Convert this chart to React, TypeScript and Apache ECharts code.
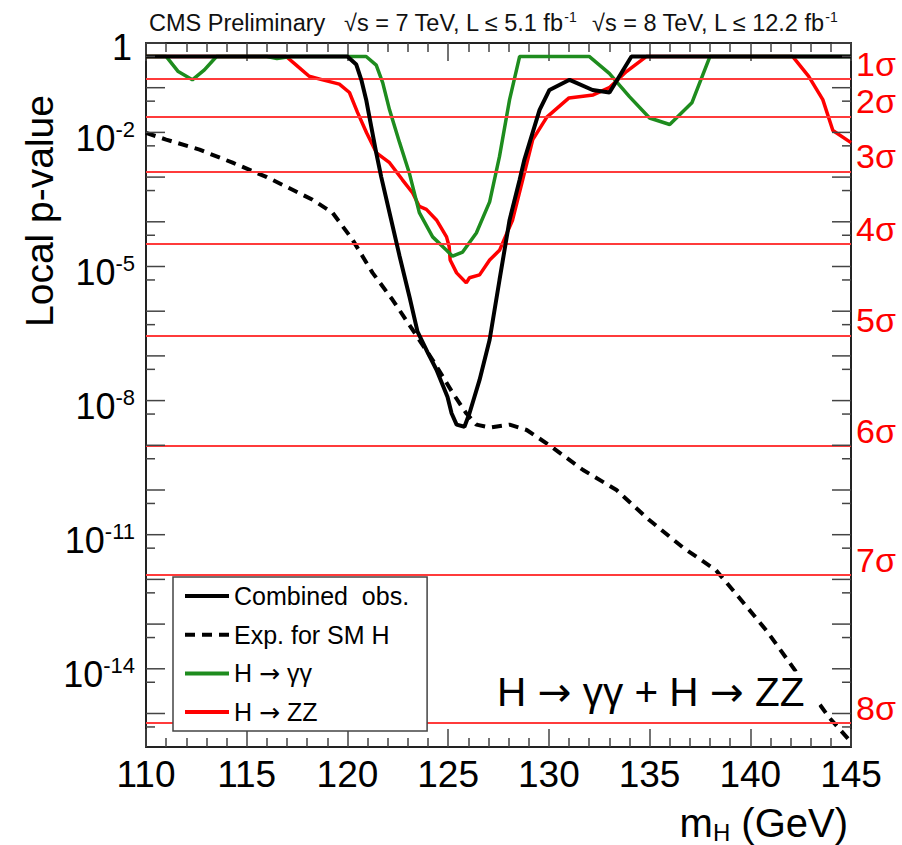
import React, { useEffect, useRef } from 'react';
import * as echarts from 'echarts';

const FONT = '"Liberation Sans", Arial, Helvetica, sans-serif';
const ARROW_FONT = '"DejaVu Sans", "Liberation Sans", sans-serif';

// ---- data (mH in GeV, local p-value) ----
const massCombined = [110, 120.0, 120.44, 120.69, 120.93, 121.18, 121.43, 121.68, 122.09, 122.59, 123.08, 123.48, 123.98, 124.42, 124.97, 125.17, 125.42, 125.81, 126.06, 126.56, 127.06, 127.55, 128.05, 128.55, 128.79, 129.54, 130.03, 131.03, 132.17, 133.01, 134.1, 145];
const pCombined = [0.5, 0.5, 0.33, 0.15, 0.054, 0.0136, 0.0035, 0.001, 1.6e-4, 1.7e-5, 2.1e-6, 3.5e-7, 1.2e-7, 4.9e-8, 1.2e-8, 5.2e-9, 2.9e-9, 2.6e-9, 5.2e-9, 2.9e-8, 2.3e-7, 5.0e-6, 1.1e-4, 8.7e-4, 2.5e-3, 0.032, 0.089, 0.15, 0.089, 0.078, 0.5, 0.5];

const massExpected = [110, 111, 112.66, 114.3, 116, 117.6, 118.27, 119.26, 120.25, 121.25, 122.24, 123.24, 124.23, 125.22, 125.9, 126.4, 127.1, 128.05, 128.9, 130.03, 131.7, 133.36, 135.0, 136.65, 138.3, 139.13, 140.8, 142.1, 143.9, 145];
const pExpected = [9.8e-3, 6.9e-3, 4.1e-3, 2.1e-3, 1.0e-3, 4.4e-4, 3.1e-4, 1.6e-4, 4.0e-5, 7.2e-6, 1.8e-6, 3.8e-7, 8.1e-8, 1.5e-8, 5.2e-9, 2.9e-9, 2.5e-9, 2.9e-9, 2.2e-9, 1.0e-9, 2.8e-10, 1.0e-10, 2.1e-11, 5.2e-12, 1.6e-12, 5.8e-13, 7.2e-14, 1.1e-14, 8.3e-16, 2.3e-16];

const massGG = [110, 111, 111.6, 112.3, 112.9, 113.5, 116, 116.5, 117.2, 120.93, 121.43, 121.75, 122.09, 122.59, 123.08, 123.57, 124.23, 124.92, 125.22, 125.72, 126.4, 127.06, 127.55, 128.05, 128.55, 132.0, 133.0, 134.0, 135.0, 136.0, 137.1, 138.0, 145];
const pGG = [0.5, 0.5, 0.23, 0.15, 0.25, 0.5, 0.5, 0.45, 0.5, 0.5, 0.32, 0.13, 0.032, 5.9e-3, 1.2e-3, 1.6e-4, 4.6e-5, 2.3e-5, 1.7e-5, 2.1e-5, 5.6e-5, 2.8e-4, 2.9e-3, 0.054, 0.5, 0.5, 0.21, 0.063, 0.021, 0.015, 0.046, 0.5, 0.5];

const massZZ = [110, 116.96, 117.46, 118.1, 118.77, 119.6, 120.1, 120.5, 120.95, 121.44, 122.09, 122.73, 123.24, 123.57, 123.92, 124.42, 124.92, 125.05, 125.1, 125.42, 125.9, 126.06, 126.56, 127.06, 127.55, 128.2, 128.7, 129.2, 129.9, 131.0, 132.2, 133.0, 133.85, 134.85, 142.1, 142.9, 143.6, 144.1, 145];
const pZZ = [0.5, 0.5, 0.32, 0.18, 0.15, 0.12, 0.078, 0.028, 9.8e-3, 3.5e-3, 2.1e-3, 8.7e-4, 4.4e-4, 2.2e-4, 1.9e-4, 1.1e-4, 4.6e-5, 2.8e-5, 1.4e-5, 7.2e-6, 4.3e-6, 5.6e-6, 6.5e-6, 1.4e-5, 2.3e-5, 1.1e-4, 8.7e-4, 6.9e-3, 0.022, 0.059, 0.069, 0.10, 0.23, 0.5, 0.5, 0.18, 0.054, 0.011, 5.9e-3];

// significance reference lines (one-sided Gaussian tail p-values)
const sigmaP = [0.1587, 0.02275, 1.35e-3, 3.17e-5, 2.87e-7, 9.87e-10, 1.28e-12, 6.22e-16];
const sigmaLabels = ['1σ', '2σ', '3σ', '4σ', '5σ', '6σ', '7σ', '8σ'];

// axes
const X_MIN = 110;
const X_MAX = 145;
const X_STEP = 5;
const Y_MIN = 1.78e-16;
const Y_MAX = 1;
const yMajorTicks = [1, 1e-1, 1e-2, 1e-3, 1e-4, 1e-5, 1e-6, 1e-7, 1e-8, 1e-9, 1e-10, 1e-11, 1e-12, 1e-13, 1e-14, 1e-15];
const yMinorTicks = [0.5, 5e-2, 5e-3, 5e-4, 5e-5, 5e-6, 5e-7, 5e-8, 5e-9, 5e-10, 5e-11, 5e-12, 5e-13, 5e-14, 5e-15, 5e-16];
const yLabelValues = [1, 1e-2, 1e-5, 1e-8, 1e-11, 1e-14];
const yLabelExponents = ['', '-2', '-5', '-8', '-11', '-14'];

const legendNames = ['Combined  obs.', 'Exp. for SM H', 'H → γγ', 'H → ZZ'];

const pairs = (xs: number[], ys: number[]) => xs.map((x, i) => [x, ys[i]]);
const arrowRich = (s: string) => s.replace(/→/g, '{a|→}');

const AXIS_COLOR = '#222';
const TICK_COLOR = '#444';

function tickSeries(values: number[], len: number) {
  return {
    type: 'custom',
    silent: true,
    z: 6,
    data: values.map((v) => [X_MIN, v]),
    renderItem: (params: any, api: any) => {
      const v = api.value(1);
      const l = api.coord([X_MIN, v]);
      const r = api.coord([X_MAX, v]);
      return {
        type: 'group',
        children: [
          { type: 'line', shape: { x1: l[0], y1: l[1], x2: l[0] + len, y2: l[1] }, style: { stroke: TICK_COLOR, lineWidth: 1.5 } },
          { type: 'line', shape: { x1: r[0], y1: r[1], x2: r[0] - len, y2: r[1] }, style: { stroke: TICK_COLOR, lineWidth: 1.5 } },
        ],
      };
    },
  };
}

const xAxisBase = {
  type: 'value',
  min: X_MIN,
  max: X_MAX,
  interval: X_STEP,
  axisLine: { show: true, lineStyle: { color: AXIS_COLOR, width: 2 } },
  axisTick: { show: true, inside: true, length: 18, lineStyle: { color: TICK_COLOR, width: 1.5 } },
  minorTick: { show: true, splitNumber: 5, length: 9, lineStyle: { color: TICK_COLOR, width: 1.5 } },
  splitLine: { show: false },
  minorSplitLine: { show: false },
};

const yAxisBase = {
  type: 'log',
  logBase: 10,
  min: Y_MIN,
  max: Y_MAX,
  axisLine: { show: true, lineStyle: { color: AXIS_COLOR, width: 2 } },
  axisTick: { show: false },
  minorTick: { show: false },
  axisLabel: { show: false },
  splitLine: { show: false },
};

const option: any = {
  animation: false,
  backgroundColor: '#ffffff',
  grid: { left: 146, top: 43, width: 705, height: 704, containLabel: false },
  xAxis: [
    {
      ...xAxisBase,
      position: 'bottom',
      axisLabel: { show: true, fontSize: 37, color: '#000', fontFamily: FONT, margin: 27, verticalAlign: 'middle', showMinLabel: true, showMaxLabel: true },
    },
    { ...xAxisBase, position: 'top', axisLabel: { show: false } },
  ],
  yAxis: [
    { ...yAxisBase, position: 'left' },
    { ...yAxisBase, position: 'right' },
  ],
  legend: {
    data: legendNames,
    orient: 'vertical',
    left: 173,
    top: 577,
    padding: [5, 18, 5, 10],
    itemGap: 10.7,
    itemWidth: 44,
    itemHeight: 14,
    backgroundColor: '#ffffff',
    borderColor: '#444',
    borderWidth: 1.5,
    borderRadius: 0,
    selectedMode: false,
    lineStyle: { width: 4 },
    itemStyle: { color: 'rgba(0,0,0,0)', borderColor: 'rgba(0,0,0,0)', borderWidth: 0 },
    formatter: (name: string) => arrowRich(name),
    textStyle: {
      fontSize: 25, fontFamily: FONT, color: '#000', lineHeight: 28,
      rich: { a: { fontSize: 25, fontFamily: ARROW_FONT, color: '#000', lineHeight: 28 } },
    },
    z: 8,
  },
  graphic: [
    { type: 'text', x: 149, y: 23, z: 10, style: { text: 'CMS Preliminary', fontSize: 23.5, fontFamily: FONT, fill: '#111', verticalAlign: 'middle' } },
    {
      type: 'text', x: 344, y: 23, z: 10,
      style: {
        text: '√s = 7 TeV, L ≤ 5.1 fb{s|-1}', fontSize: 23.5, fontFamily: FONT, fill: '#111', verticalAlign: 'middle', lineHeight: 26,
        rich: { s: { fontSize: 14, fontFamily: FONT, fill: '#111', lineHeight: 14, verticalAlign: 'top' } },
      },
    },
    {
      type: 'text', x: 592, y: 23, z: 10,
      style: {
        text: '√s = 8 TeV, L ≤ 12.2 fb{s|-1}', fontSize: 23.5, fontFamily: FONT, fill: '#111', verticalAlign: 'middle', lineHeight: 26,
        rich: { s: { fontSize: 14, fontFamily: FONT, fill: '#111', lineHeight: 14, verticalAlign: 'top' } },
      },
    },
    {
      type: 'text', x: 39, y: 211, rotation: Math.PI / 2, z: 10,
      style: { text: 'Local p-value', fontSize: 39, fontFamily: FONT, fill: '#000', align: 'center', verticalAlign: 'middle' },
    },
    {
      type: 'text', x: 848, y: 823, z: 10,
      style: {
        text: '{m|m}{h|H}{g| (GeV)}', align: 'right', verticalAlign: 'middle', fill: '#000',
        rich: {
          m: { fontSize: 40, fontFamily: FONT, fill: '#000', lineHeight: 42 },
          h: { fontSize: 24, fontFamily: FONT, fill: '#000', lineHeight: 24, verticalAlign: 'bottom' },
          g: { fontSize: 40, fontFamily: FONT, fill: '#000', lineHeight: 42 },
        },
      },
    },
    {
      type: 'text', x: 493, y: 692, z: 10,
      style: {
        text: arrowRich('H → γγ + H → ZZ'), fontSize: 40.5, fontFamily: FONT, fill: '#000', verticalAlign: 'middle',
        backgroundColor: '#ffffff', padding: [0, 14, 0, 4],
        rich: { a: { fontSize: 40.5, fontFamily: ARROW_FONT, fill: '#000' } },
      },
    },
  ],
  series: [
    {
      type: 'line',
      name: 'sigma-lines',
      data: [[X_MIN, Y_MAX], [X_MAX, Y_MAX]],
      symbol: 'none',
      silent: true,
      lineStyle: { opacity: 0, width: 0 },
      z: 1,
      markLine: {
        silent: true,
        symbol: ['none', 'none'],
        precision: 20,
        animation: false,
        lineStyle: { color: '#ff3b3b', width: 2, type: 'solid' },
        label: {
          show: true, position: 'end', color: '#ff0000', fontSize: 34, fontFamily: FONT,
          lineHeight: 30, verticalAlign: 'bottom', align: 'left', distance: 5,
        },
        data: sigmaP.map((p, i) => ({ yAxis: p, label: { formatter: sigmaLabels[i] } })),
      },
    },
    {
      type: 'line', name: legendNames[3], data: pairs(massZZ, pZZ), symbol: 'none', z: 2,
      lineStyle: { color: '#ff0000', width: 3.5 }, itemStyle: { color: '#ff0000' },
    },
    {
      type: 'line', name: legendNames[2], data: pairs(massGG, pGG), symbol: 'none', z: 3,
      lineStyle: { color: '#1e8c1e', width: 3.5 }, itemStyle: { color: '#1e8c1e' },
    },
    {
      type: 'line', name: legendNames[1], data: pairs(massExpected, pExpected), symbol: 'none', z: 4,
      lineStyle: { color: '#000', width: 4, type: [10, 7] }, itemStyle: { color: '#000' },
    },
    {
      type: 'line', name: legendNames[0], data: pairs(massCombined, pCombined), symbol: 'none', z: 5,
      lineStyle: { color: '#000', width: 4 }, itemStyle: { color: '#000' },
    },
    tickSeries(yMajorTicks, 19),
    tickSeries(yMinorTicks, 9),
    {
      type: 'custom',
      silent: true,
      z: 7,
      data: yLabelValues.map((v) => [X_MIN, v]),
      renderItem: (params: any, api: any) => {
        const v = api.value(1);
        const l = api.coord([X_MIN, v]);
        const exp = yLabelExponents[params.dataIndex];
        const isOne = exp === '';
        return {
          type: 'text',
          x: isOne ? l[0] - 14 : l[0] - 11,
          y: l[1] + (isOne ? 4 : 6),
          style: {
            text: isOne ? '{b|1}' : `{b|10}{s|${exp}}`,
            align: 'right',
            verticalAlign: 'middle',
            fill: '#000',
            rich: {
              b: { fontSize: 36, fontFamily: FONT, fill: '#000', lineHeight: 40 },
              s: { fontSize: 22, fontFamily: FONT, fill: '#000', lineHeight: 22, verticalAlign: 'top' },
            },
          },
        };
      },
    },
  ],
};

export default function App() {
  const ref = useRef<HTMLDivElement>(null);
  useEffect(() => {
    const chart = echarts.init(ref.current as HTMLDivElement, undefined, { renderer: 'svg' });
    chart.setOption(option);
    return () => chart.dispose();
  }, []);
  return (
    <div
      ref={ref}
      style={{ position: 'fixed', left: 0, top: 0, width: 902, height: 845, background: '#fff' }}
    />
  );
}
